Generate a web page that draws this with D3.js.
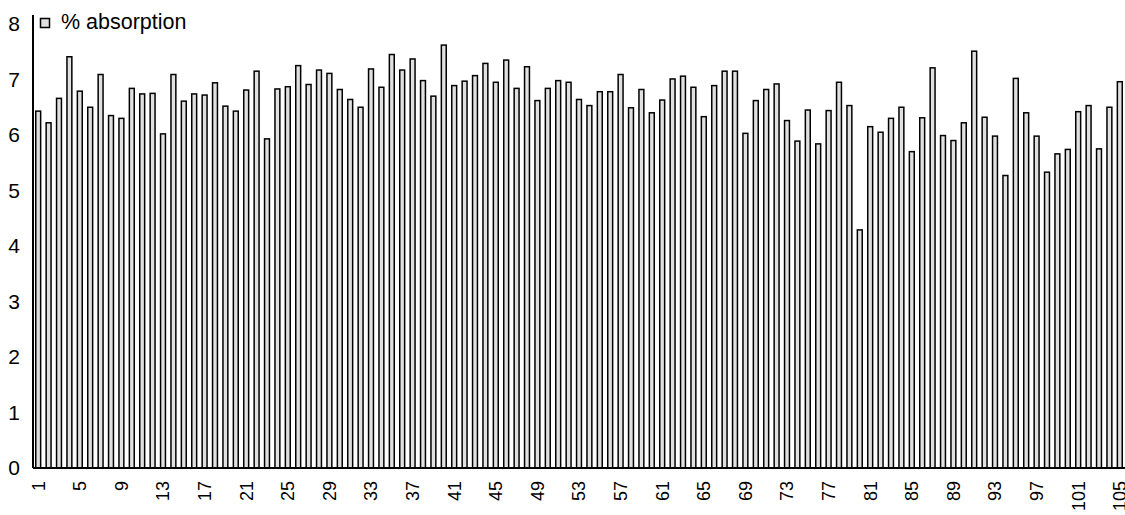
<!DOCTYPE html>
<html><head><meta charset="utf-8">
<script src="https://cdn.jsdelivr.net/npm/d3@7"></script>
<style>body{margin:0;background:#fff}svg{display:block}text{font-family:"Liberation Sans",Arial,sans-serif}</style>
</head><body>
<svg id="c" width="1125" height="515"></svg>
<script>
const categories = d3.range(1, 106).map(String);
const absorption = [
6.43,6.22,6.66,7.41,6.79,6.50,7.09,6.35,6.30,6.84,
6.74,6.75,6.02,7.09,6.61,6.74,6.72,6.94,6.52,6.43,
6.81,7.15,5.93,6.83,6.87,7.25,6.91,7.17,7.11,6.82,
6.64,6.50,7.19,6.86,7.45,7.17,7.37,6.98,6.70,7.62,
6.89,6.97,7.07,7.29,6.95,7.35,6.84,7.23,6.62,6.84,
6.98,6.95,6.64,6.53,6.78,6.78,7.09,6.49,6.82,6.40,
6.63,7.01,7.06,6.86,6.33,6.89,7.15,7.15,6.03,6.62,
6.82,6.92,6.26,5.89,6.45,5.84,6.44,6.95,6.53,4.29,
6.15,6.05,6.30,6.50,5.70,6.31,7.21,5.99,5.90,6.22,
7.51,6.32,5.98,5.27,7.02,6.40,5.98,5.33,5.66,5.74,
6.42,6.53,5.75,6.50,6.96];
const yTicks = [0,1,2,3,4,5,6,7,8];
const seriesName = "% absorption";

const svg = d3.select("#c");
const x0 = 33, x1 = 1125, yTop = 24, yBot = 468;
const x = d3.scaleBand().domain(categories).range([x0, x1]).paddingInner(0.53).paddingOuter(0.265);
const y = d3.scaleLinear().domain([0, 8]).range([yBot, yTop]);

svg.append("g").selectAll("rect").data(absorption).join("rect")
  .attr("x", (d, i) => x(categories[i]))
  .attr("y", d => y(d))
  .attr("width", x.bandwidth())
  .attr("height", d => yBot - y(d))
  .attr("fill", "#e0e0e0").attr("stroke", "#000").attr("stroke-width", 1.5);

// y axis
const ya = svg.append("g").attr("transform", `translate(${x0},0)`)
  .call(d3.axisLeft(y).tickValues(yTicks).tickSize(0).tickPadding(13).tickFormat(d3.format("d")));
ya.select(".domain").attr("stroke", "#000").attr("stroke-width", 2).attr("d", `M0,15V${yBot}`);
ya.selectAll("text").attr("font-size", 21).attr("fill", "#000").attr("font-family", "Liberation Sans, Arial, sans-serif");

// x axis
const xa = svg.append("g").attr("transform", `translate(0,${yBot})`)
  .call(d3.axisBottom(x).tickValues(categories.filter((d, i) => i % 4 === 0)).tickSize(0).tickPadding(0));
xa.select(".domain").attr("stroke", "#000").attr("stroke-width", 2).attr("d", `M${x0},0H${x1}`);
xa.selectAll("text").attr("font-size", 18).attr("fill", "#000")
  .attr("font-family", "Liberation Sans, Arial, sans-serif")
  .attr("transform", "rotate(-90)").attr("text-anchor", "end")
  .attr("x", -13).attr("y", 0).attr("dy", "0.35em");

// legend
const lg = svg.append("g");
lg.append("rect").attr("x", 40.5).attr("y", 18.5).attr("width", 9).attr("height", 9)
  .attr("fill", "#e0e0e0").attr("stroke", "#000").attr("stroke-width", 1.5);
lg.append("text").attr("x", 61).attr("y", 29).attr("font-size", 21.5).attr("fill", "#000").text(seriesName);
</script>
</body></html>
